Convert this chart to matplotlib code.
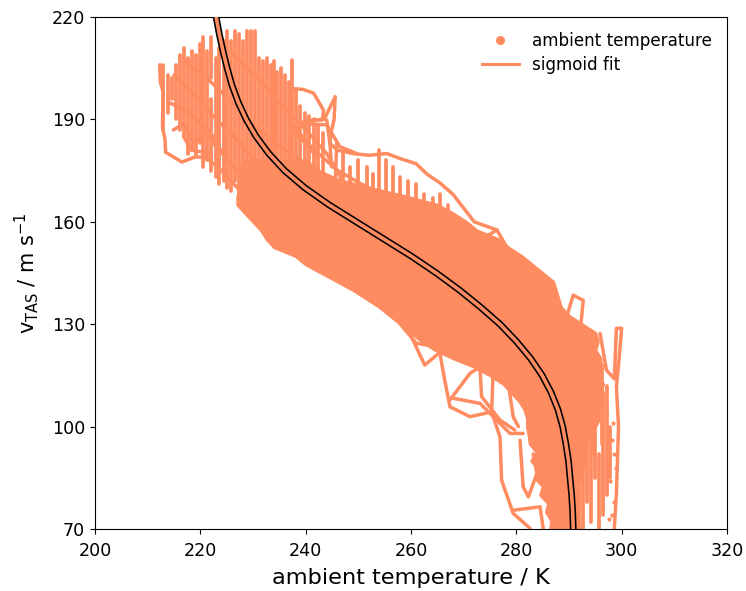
import matplotlib
matplotlib.use("Agg")
import matplotlib.pyplot as plt

COLOR = "#FF8B60"

# sigmoid fit
fit_T = [223.0, 223.6, 224.3, 225.1, 226.0, 227.2, 228.7, 230.6, 233.0, 236.0, 239.8, 244.4, 249.6, 254.8, 260.0,
         264.8, 269.2, 273.2, 276.9, 280.0, 282.7, 284.9, 286.6, 287.9, 288.8, 289.4, 289.9, 290.2, 290.5, 290.7, 290.8]
fit_V = [220, 215, 210, 205, 200, 195, 190, 185, 180, 175, 170, 165, 160, 155, 150,
         145, 140, 135, 130, 125, 120, 115, 110, 105, 100, 95, 90, 85, 80, 75, 70]

# dense part of the measurement cloud: left and right temperature bound per speed
cloud_V = [178, 175, 172.5, 170, 167.5, 165, 162.5, 160, 157.5, 155, 152.5, 150, 147.5, 145, 142.5, 140, 137.5,
           135, 132.5, 130, 127.5, 125, 122.5, 120, 117.5, 115, 112.5, 110, 107.5, 105, 102.5, 100, 97.5,
           95, 92.5, 90, 87.5, 85, 82.5, 80, 77.5, 75, 72.5, 70]
cloud_left = [228, 227.5, 227.8, 227.5, 227, 227, 228.5, 230, 231.5, 232.5, 234, 238, 240, 243, 246, 249, 251.5,
              254, 256, 258, 260, 262, 264.5, 268, 272, 275, 277.5, 279, 280.5, 281.5, 282, 282, 282.3,
              282.5, 283.8, 282.8, 284.2, 283.5, 285, 284.5, 286, 285.6, 286.6, 286.4]
cloud_right = [240, 242.5, 246, 252, 259, 265, 268, 270.5, 272.5, 276.5, 278.5, 281, 283, 285, 287, 287.5, 288,
               288.5, 290, 292.5, 295, 295.5, 295, 296, 296, 295.5, 296.5, 296, 296.5, 295.5, 295.8, 295, 294,
               293, 292.5, 293.2, 292, 292.4, 291.6, 292, 291.4, 291.8, 291.3, 291.6]

# near-vertical streaks in the cool, fast part of the cloud
streak_T = [213.0, 213.8, 214.6, 215.3, 216.1, 216.9, 217.6, 218.4, 219.1, 219.9, 220.6, 221.3, 222.1, 222.1, 222.9,
            223.6, 224.4, 225.1, 225.9, 226.6, 227.4, 228.1, 228.9, 229.6, 230.4, 231.1, 231.9, 232.6, 233.4, 233.9,
            234.6, 235.4, 236.1, 236.9, 237.4, 238.2, 239, 239.8, 240.6, 241.5, 242.4, 243.3,
            247, 248.5, 250, 251.6, 252.8, 254, 255.3, 256.5, 258, 259.5, 261, 262.5, 264.2, 265.5, 267,
            291.9, 292.7, 293.4, 294.2, 295, 295.7, 296.5, 297.2, 297.8, 293.0, 294.8, 296.2]
streak_low = [187, 192, 196, 190, 187, 185, 180, 181, 179, 183, 176, 178, 175, 202, 173,
              171, 172, 170, 169, 172, 168, 170, 170, 172, 172, 170, 172, 176, 170, 174,
              172, 170, 170, 172, 172, 170, 172, 172, 170, 172, 170, 172,
              168, 168, 168, 166, 166, 168, 165, 165, 165, 165, 163, 163, 160, 160, 158,
              70, 70, 78, 72, 85, 70, 74, 80, 85, 88, 92, 95]
streak_high = [206, 203, 202, 206, 209, 211, 208, 210, 209, 212, 214, 210, 196, 214, 208,
               211, 213, 216, 213, 216, 215, 213, 216, 216, 216, 208, 207, 208, 206, 207,
               204, 205, 203, 201, 207.5, 199, 194, 192, 191, 190, 188, 186,
               180, 176, 178, 176, 174, 181, 178, 176, 173, 172, 171, 168, 167, 168, 165,
               100, 105, 105, 100, 100, 92, 110, 112, 100, 110, 112, 118]

# individual outlying flight tracks
t1_T = [212.3, 212.4, 213.0, 212.8, 213.3, 213.4, 216.5, 219, 221, 224, 227, 230]
t1_V = [206, 201, 197.7, 188, 184, 180.4, 177.5, 179, 179, 175, 170, 165]
t2_T = [237.4, 239.5, 241.5, 243.4, 243.2, 240, 237.5]
t2_V = [199, 198.8, 197.7, 192.7, 190, 189.5, 186]
t3_T = [245.6, 245.4, 244.8, 244.6, 246, 249, 252, 255.4, 258, 261, 263, 265.5, 268, 272, 276.3]
t3_V = [196.6, 190, 186, 183, 181, 180, 179.5, 180, 178.5, 177, 174, 171.4, 168, 160, 157.6]
t4_T = [245.6, 243.5, 243, 241.4, 238.3]
t4_V = [196.6, 190, 189.8, 189.8, 188.8]
t5_T = [238.3, 244, 246.5, 249.7]
t5_V = [188.8, 188.4, 182, 180]
t6_T = [237.3, 241, 245.9, 250.3, 252.8]
t6_V = [188.8, 182, 175.2, 171.3, 169.3]
t7_T = [276.3, 280, 280.4, 283.8, 287.3, 288.9]
t7_V = [157.6, 147.8, 143, 143.4, 139.5, 128.8]
t8_T = [288.9, 290.8, 292.7, 292.1]
t8_V = [128.8, 138.5, 137, 127.3]
t9_T = [295.9, 297.1, 298.6, 299, 300, 299.4, 299, 299.4, 299, 298.6]
t9_V = [127.3, 116.6, 114, 128.8, 128.8, 118, 111.7, 100, 80.4, 70]
t10_T = [257.9, 259.8, 262.6, 265.2]
t10_V = [131.2, 127.3, 118, 121.4]
t11_T = [265.5, 266.4, 267.4, 271.2, 275.3, 276.9, 277.2, 279.4, 282.6]
t11_V = [121.4, 113.6, 105.8, 102.9, 104.3, 97, 84.3, 74.6, 70.2]
t12_T = [267.4, 271.2, 273.1]
t12_V = [107.8, 115.6, 117.5]
t13_T = [268, 273.1, 278.8, 281.3]
t13_V = [108.3, 106.8, 98, 98]
t14_T = [273.1, 273.4, 276.9, 279.7]
t14_V = [117.5, 108.8, 101.9, 99]
t15_T = [275.6, 275.3]
t15_V = [116.6, 103.9]
t16_T = [278.2, 279.4, 280.4]
t16_V = [115.6, 102.9, 100]
t17_T = [280.7, 281.3, 282.3, 283.9, 283.2]
t17_V = [96, 82.4, 79.4, 86.3, 92]
t18_T = [279.4, 284.5, 285.1]
t18_V = [75.5, 76.5, 70.2]
t19_T = [257.9, 261, 264.9]
t19_V = [130.2, 124.4, 123.4]
t20_T = [214.9, 216.8, 218.7, 221, 224]
t20_V = [186.9, 188.8, 183, 186, 180]
t21_T = [216.8, 218.3, 222.1]
t21_V = [185, 181, 180]
t22_T = [238.3, 242.1]
t22_V = [185.9, 179.1]
t23_T = [245.9, 245.6]
t23_V = [183, 171.3]
t24_T = [244, 244.6, 244.9]
t24_V = [189.8, 183, 176.1]
t25_T = [268.7, 269.9, 273.1, 276.3]
t25_V = [158.5, 156.6, 154.6, 157.6]
t26_T = [215, 219, 223, 227, 231, 236]
t26_V = [203, 197, 190, 184, 177, 172]
t27_T = [217, 222, 226, 231, 237, 242]
t27_V = [207, 201, 195, 187, 180, 175]
t28_T = [214, 218, 222, 225, 229]
t28_V = [195, 192, 186, 178, 172]
t29_T = [226, 231, 235, 240, 244, 247]
t29_V = [209, 202, 195, 187, 180, 172]

tracks = [(t1_T, t1_V), (t2_T, t2_V), (t3_T, t3_V), (t4_T, t4_V), (t5_T, t5_V), (t6_T, t6_V), (t7_T, t7_V),
          (t8_T, t8_V), (t9_T, t9_V), (t10_T, t10_V), (t11_T, t11_V), (t12_T, t12_V), (t13_T, t13_V),
          (t14_T, t14_V), (t15_T, t15_V), (t16_T, t16_V), (t17_T, t17_V), (t18_T, t18_V), (t19_T, t19_V),
          (t20_T, t20_V), (t21_T, t21_V), (t22_T, t22_V), (t23_T, t23_V), (t24_T, t24_V), (t25_T, t25_V),
          (t26_T, t26_V), (t27_T, t27_V), (t28_T, t28_V), (t29_T, t29_V)]

# isolated samples near the warm, slow end
dots_T = [298.5, 298.2, 297.8, 298.9, 298.6, 298.1, 297.6, 298.3]
dots_V = [78, 74, 84, 88, 92, 96, 73, 101]

x_ticks = [200, 220, 240, 260, 280, 300, 320]
y_ticks = [70, 100, 130, 160, 190, 220]

fig = plt.figure(figsize=(7.46, 5.91), dpi=100)
ax = fig.add_axes([95 / 746, 1 - 529 / 591, (727 - 95) / 746, (529 - 17) / 591])

ax.fill_betweenx(cloud_V, cloud_left, cloud_right, color=COLOR, lw=2, zorder=2)
ax.vlines(streak_T, streak_low, streak_high, color=COLOR, lw=2.7, capstyle="round", zorder=2)
for tt, vv in tracks:
    ax.plot(tt, vv, color=COLOR, lw=2.5, solid_capstyle="round", solid_joinstyle="round", zorder=2)
ax.plot(dots_T, dots_V, "o", color=COLOR, ms=2, ls="none", zorder=2)

ax.plot(fit_T, fit_V, color="black", lw=4.9, zorder=3)
ax.plot(fit_T, fit_V, color=COLOR, lw=2.6, zorder=4)
ax.plot([], [], "o", color=COLOR, ms=5.5, ls="none", label="ambient temperature")
ax.plot([], [], color=COLOR, lw=2.2, label="sigmoid fit")

ax.set_xlim(200, 320)
ax.set_ylim(70, 220)
ax.set_xticks(x_ticks)
ax.set_yticks(y_ticks)
ax.tick_params(labelsize=12.6)
ax.tick_params(axis="x", pad=5.5)
ax.set_xlabel("ambient temperature / K", fontsize=16.2, labelpad=6)
ax.set_ylabel(r"$\mathrm{v_{TAS}}$ / m s$^{-1}$", fontsize=15, labelpad=8)
ax.legend(loc="upper right", frameon=False, fontsize=12.1, borderaxespad=0.5, handlelength=2.2, labelspacing=0.36)

fig.savefig("out.png", dpi=100)
